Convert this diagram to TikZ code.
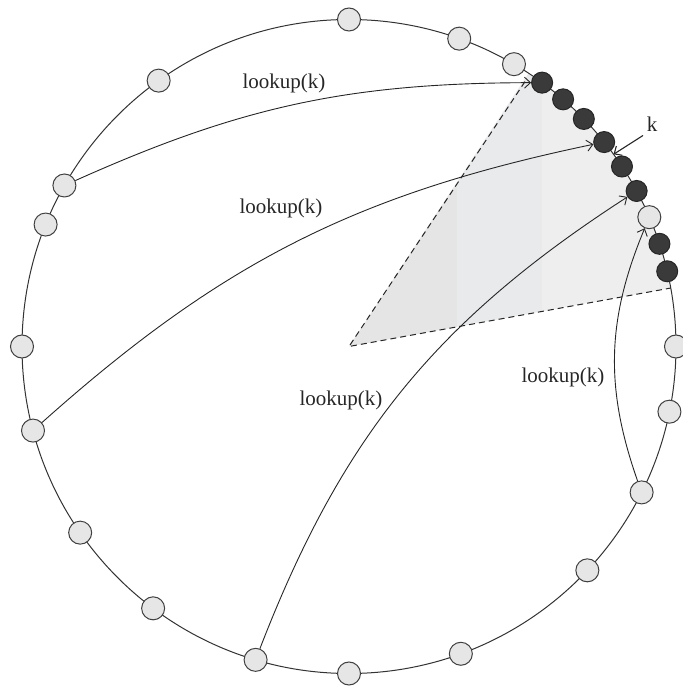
\documentclass[tikz,border=0pt]{standalone}
\usepackage{fontspec}
\setmainfont{Liberation Serif}
\usetikzlibrary{arrows.meta}
\definecolor{bandA}{RGB}{229,229,229}
\definecolor{bandB}{RGB}{233,234,235}
\definecolor{bandC}{RGB}{238,238,238}
\definecolor{peerfill}{RGB}{230,230,230}
\definecolor{holderfill}{RGB}{58,58,58}
\begin{document}
\begin{tikzpicture}[x=1pt,y=1pt,
  peer/.style={circle, draw=black!75, fill=peerfill, line width=1pt, minimum size=23pt, inner sep=0pt},
  keyholder/.style={circle, draw=black!85, fill=holderfill, line width=1pt, minimum size=21pt, inner sep=0pt},
  ring/.style={draw=black!80, line width=1pt},
  hop/.style={draw=black!85, line width=0.9pt, -{Straight Barb[length=6pt,width=11pt]}},
  lbl/.style={font=\fontsize{21}{25}\selectfont, inner sep=0pt, text=black!85},
  sectoredge/.style={draw=black!85, line width=1pt, dash pattern=on 6pt off 4pt}]
\useasboundingbox (0,0) rectangle (683,689);
\begin{scope}[shift={(349,342.5)}]
  \coordinate (O) at (0,0);
  % responsibility sector, shaded in three vertical bands
  \begin{scope}
    \clip (O) -- (56.7:327) arc[start angle=56.7, end angle=10.3, radius=327] -- cycle;
    \fill[bandA] (0,-10) rectangle (108,340);
    \fill[bandB] (108,-10) rectangle (193,340);
    \fill[bandC] (193,-10) rectangle (340,340);
  \end{scope}
  \coordinate (rangeA) at (56.4:318);
  \coordinate (rangeB) at (10.3:327);
  \draw[sectoredge] (rangeA) -- (O) -- (rangeB);

  % the ring
  \draw[ring] (O) circle[radius=327];

  % peers on the ring
  \foreach \a/\n in {90/p90, 70.3/p70, 59.7/p60, 125.6/p126, 150.5/p150, 158.1/p158,
                     180/p180, 194.9/p195, 214.7/p215, 233.2/p233, 253.4/p253, 270/p270,
                     290/p290, 316.8/p317, 333.5/p334, 348.5/p349, 0/p0, 23.3/p23}
    \node[peer] (\n) at (\a:327) {};
  % peers holding the key
  \foreach \a/\n in {53.8/d54, 49.1/d49, 44.1/d44, 38.7/d39, 33.4/d33, 28.4/d28, 18.3/d18, 13.3/d13}
    \node[keyholder] (\n) at (\a:327) {};

  % lookups
  \draw[hop] (p150) to[bend left=12] (d54);
  \draw[hop] (p195) to[bend left=15] (d39);
  \draw[hop] (p253) to[bend left=18] (d28);
  \draw[hop] (p334) to[bend left=21] (p23);

  \node[lbl] (l1) at (-65,263) {lookup(k)};
  \node[lbl] (l2) at (-68,138) {lookup(k)};
  \node[lbl] (l3) at (-8,-54) {lookup(k)};
  \node[lbl] (l4) at (214,-31) {lookup(k)};

  % key position
  \node[lbl] (klbl) at (303,222) {k};
  \coordinate (kfrom) at (294,211);
  \coordinate (kpos) at (36:327);
  \draw[hop, line width=1.1pt] (kfrom) -- (kpos);
\end{scope}
\end{tikzpicture}
\end{document}
